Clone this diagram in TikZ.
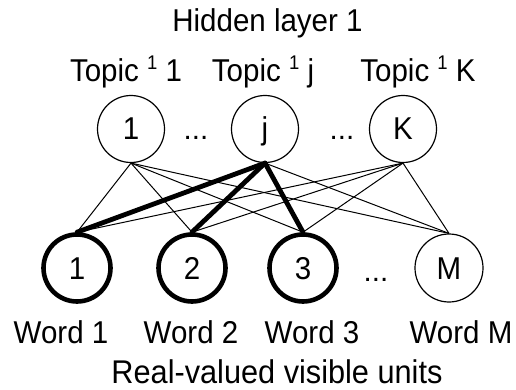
\documentclass[tikz,border=0pt]{standalone}
\usepackage{fontspec}
\usepackage{graphicx}
\setmainfont{Liberation Sans}
% slightly tall lettering
\newcommand\tall[1]{\scalebox{1}[1.07]{#1}}
\newcommand\tsup[1]{\raisebox{12pt}{\fontsize{18.5}{18.5}\selectfont #1}}
\begin{document}
\begin{tikzpicture}[x=1pt,y=-1pt,
  lbl/.style={font=\fontsize{29.5}{32}\selectfont, inner sep=0pt, anchor=base},
  unit/.style={circle, draw, line width=1.2pt, minimum size=67pt, inner sep=0pt,
    text height=22pt, text depth=0pt, font=\fontsize{29.5}{32}\selectfont},
  active/.style={unit, line width=4.6pt},
  thin/.style={line width=1pt},
  thick/.style={line width=4.8pt, line cap=round}]
\useasboundingbox (0,0) rectangle (516,390);

% hidden layer
\node[lbl] (title) at (267.5,32) {\tall{Hidden layer 1}};
\node[lbl] (t1) at (126,82) {\tall{Topic \tsup{1} 1}};
\node[lbl] (tj) at (263,82) {\tall{Topic \tsup{1} j}};
\node[lbl] (tk) at (418,82) {\tall{Topic \tsup{1} K}};

\node[unit] (h1) at (131,129) {\tall{1}};
\node[unit] (hj) at (265,129) {\tall{j}};
\node[unit] (hk) at (403,129) {\tall{K}};
\node[lbl] (hd1) at (196,140) {...};
\node[lbl] (hd2) at (342,140) {...};

% visible layer
\node[active] (v1) at (77,268) {\tall{1}};
\node[active] (v2) at (192,268) {\tall{2}};
\node[active] (v3) at (303,268) {\tall{3}};
\node[unit, minimum size=68pt] (vm) at (449,268) {\tall{M}};
\node[lbl] (vd) at (376,281) {...};

\node[lbl] (w1) at (61,343) {\tall{Word 1}};
\node[lbl] (w2) at (191,343) {\tall{Word 2}};
\node[lbl] (w3) at (312,343) {\tall{Word 3}};
\node[lbl] (wm) at (461,343) {\tall{Word M}};
\node[lbl, font=\fontsize{30.7}{33}\selectfont] (vis) at (277,383.5) {\tall{Real-valued visible units}};

% connections
\foreach \h in {h1,hk}
  \foreach \v in {v1,v2,v3,vm}
    \draw[thin] (\h.south) -- (\v.north);
\draw[thin] (hj.south) -- (vm.north);
\foreach \v in {v1,v2,v3}
  \draw[thick] (hj.south) -- (\v.north);
\end{tikzpicture}
\end{document}
